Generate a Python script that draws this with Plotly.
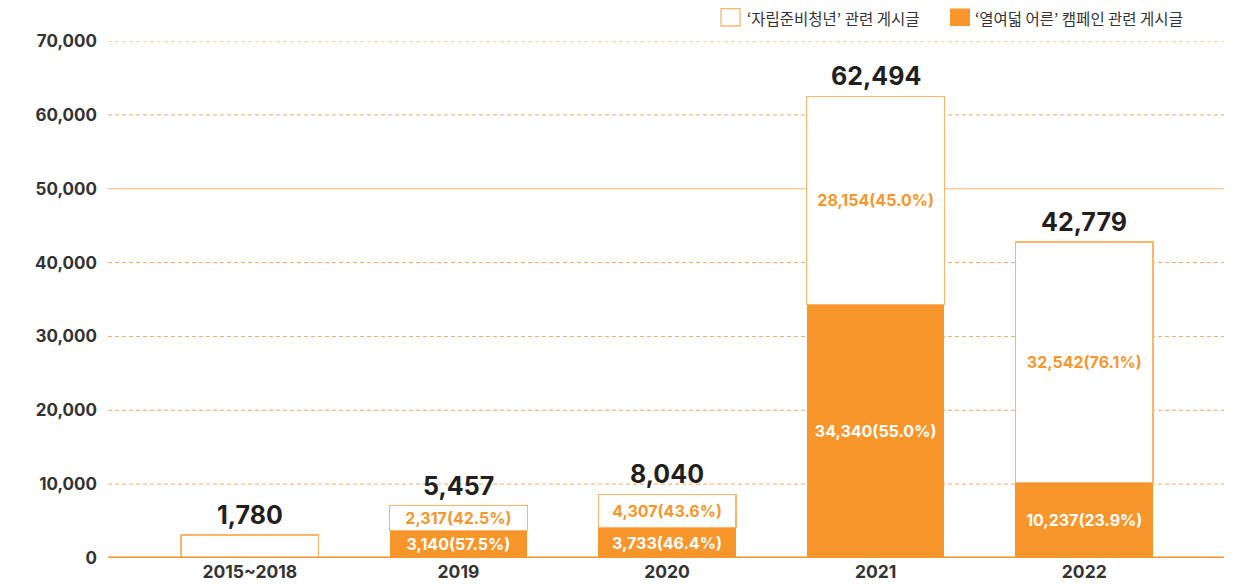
import plotly.graph_objects as go

# ---- data ----
categories = ["2015~2018", "2019", "2020", "2021", "2022"]
youth_posts = [1780, 2317, 4307, 28154, 32542]          # '자립준비청년' 관련 게시글
youth_share = [None, 42.5, 43.6, 45.0, 76.1]
campaign_posts = [0, 3140, 3733, 34340, 10237]          # '열여덟 어른' 캠페인 관련 게시글
campaign_share = [None, 57.5, 46.4, 55.0, 23.9]
totals = [1780, 5457, 8040, 62494, 42779]
# bar heights as drawn in the picture (small years are drawn taller than scale)
campaign_drawn = [0, 3700, 4100, 34340, 10237]
youth_drawn = [3100, 3400, 4500, 28154, 32542]
y_ticks = [0, 10000, 20000, 30000, 40000, 50000, 60000, 70000]

ORANGE = "#F7962B"
LIGHT = "#F9B56C"
DARK = "#231F20"
NUM_FONT = "Inter, Liberation Sans, sans-serif"
KR_FONT = "Noto Sans CJK KR, sans-serif"


def lab(v, s):
    return "" if s is None else f"<b>{v:,}({s:.1f}%)</b>"


fig = go.Figure()
fig.add_bar(
    x=categories, y=campaign_drawn, name="'열여덟 어른' 캠페인 관련 게시글",
    marker=dict(color=ORANGE, line=dict(width=0)),
    text=[lab(v, s) for v, s in zip(campaign_posts, campaign_share)],
    textposition="inside", insidetextanchor="middle", textangle=0,
    textfont=dict(color="white", size=16, family=NUM_FONT),
    width=0.66, showlegend=False, hoverinfo="skip",
)
fig.add_bar(
    x=categories, y=youth_drawn, name="'자립준비청년' 관련 게시글",
    marker=dict(color="white", line=dict(width=1.3, color=LIGHT)),
    text=[lab(v, s) for v, s in zip(youth_posts, youth_share)],
    textposition="inside", insidetextanchor="middle", textangle=0,
    textfont=dict(color=ORANGE, size=16, family=NUM_FONT),
    width=0.66, showlegend=False, hoverinfo="skip",
)

# totals above bars
for i, (a, b, t) in enumerate(zip(campaign_drawn, youth_drawn, totals)):
    fig.add_annotation(x=i, y=a + b, text=f"<b>{t:,}</b>", showarrow=False,
                       yanchor="bottom", yshift=3,
                       font=dict(size=25, color=DARK, family=NUM_FONT))

# gridlines
for v in y_ticks[1:]:
    solid = v == 50000
    fig.add_shape(type="line", xref="paper", x0=0, x1=1, y0=v, y1=v,
                  line=dict(color="#FBC38A" if solid else "#F6A85E", width=1.3 if solid else 1,
                            dash="solid" if solid else "4px,3px"),
                  layer="below")
# baseline
fig.add_shape(type="line", xref="paper", x0=0, x1=1, y0=0, y1=0,
              line=dict(color=ORANGE, width=3), layer="above")

# page has an 8px body margin: figure pixel = page pixel - 8
OFF = 8
W, H = 1256 - OFF, 586 - OFF
L, R, T, B = 108 - OFF, 32, 41 - OFF, 28
pw, ph = W - L - R, H - T - B


def px(xp):
    return (xp - OFF - L) / pw


def py(yp):
    return (H - B - (yp - OFF)) / ph


fig.add_shape(type="rect", xref="paper", yref="paper", x0=px(721), x1=px(740), y0=py(26), y1=py(8.5),
              line=dict(color=LIGHT, width=1.3), fillcolor="white")
fig.add_annotation(xref="paper", yref="paper", x=px(746), y=py(17.5), xanchor="left", yanchor="middle",
                   text="‘자립준비청년’ 관련 게시글", showarrow=False, borderpad=0,
                   font=dict(size=15.5, color="#333333", family=KR_FONT))
fig.add_shape(type="rect", xref="paper", yref="paper", x0=px(950), x1=px(970), y0=py(26), y1=py(8.5),
              line=dict(color=ORANGE, width=0), fillcolor=ORANGE)
fig.add_annotation(xref="paper", yref="paper", x=px(974), y=py(17.5), xanchor="left", yanchor="middle",
                   text="‘열여덟 어른’ 캠페인 관련 게시글", showarrow=False, borderpad=0,
                   font=dict(size=15.5, color="#333333", family=KR_FONT))

fig.update_layout(
    width=W, height=H, barmode="stack", bargap=0.34,
    margin=dict(l=L, r=R, t=T, b=B, autoexpand=False),
    plot_bgcolor="white", paper_bgcolor="white",
    uniformtext=dict(minsize=16, mode="show"),
    xaxis=dict(type="category", range=[-0.68, 4.67], showgrid=False, showline=False,
               ticks="", ticklabelstandoff=1,
               tickfont=dict(size=17.5, color="#333333", family=NUM_FONT, weight="bold")),
    yaxis=dict(range=[0, 70000], tickvals=y_ticks, ticktext=[f"{v:,}" for v in y_ticks],
               showgrid=False, zeroline=False, showline=False, ticks="", ticklabelstandoff=10,
               tickfont=dict(size=17, color="#333333", family=NUM_FONT, weight="bold")),
)

fig.write_html("out.html")
